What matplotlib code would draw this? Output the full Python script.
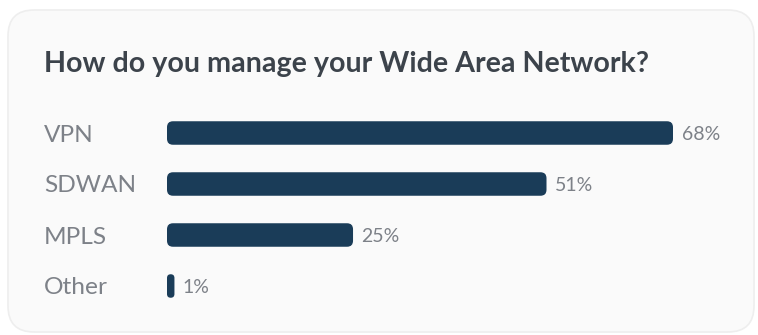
import matplotlib
matplotlib.use("Agg")
import matplotlib.pyplot as plt
from matplotlib.patches import FancyBboxPatch

# Survey results
title = "How do you manage your Wide Area Network?"
categories = ["VPN", "SDWAN", "MPLS", "Other"]
shares = [68, 51, 25, 1]
value_labels = ["68%", "51%", "25%", "1%"]

W, H, DPI = 758, 335, 100
BAR_COLOR = "#1a3c58"
LABEL_COLOR = "#7d8188"
TITLE_COLOR = "#3c434b"
FONT = ["Lato", "DejaVu Sans"]

fig = plt.figure(figsize=(W / DPI, H / DPI), dpi=DPI)
fig.patch.set_facecolor("white")

# Card background, drawn in pixel units
bg = fig.add_axes([0, 0, 1, 1])
bg.set_xlim(0, W)
bg.set_ylim(H, 0)
bg.axis("off")
bg.add_patch(FancyBboxPatch((8, 10), 746, 322,
                            boxstyle="round,pad=0,rounding_size=26",
                            facecolor="#fafafa", edgecolor="#eeeeee",
                            linewidth=1.2))
bg.text(44, 72, title, fontsize=20.6, fontweight="bold", color=TITLE_COLOR,
        family=FONT, ha="left", va="baseline")

# Bar axes: left edge at the bar origin, one row every 51 px
x0_px, x1_px = 167, 745
y_top_px, y_bot_px = 107.5, 311.5
ax = fig.add_axes([x0_px / W, 1 - y_bot_px / H,
                   (x1_px - x0_px) / W, (y_bot_px - y_top_px) / H])
px_per_unit_x = 506 / 68
xmax = (x1_px - x0_px) / px_per_unit_x
ax.set_xlim(0, xmax)
ax.set_ylim(len(categories) - 0.5, -0.5)
ax.axis("off")
px_per_unit_y = (y_bot_px - y_top_px) / len(categories)

bar_h = 23.5 / px_per_unit_y
radius_px = 6.0
aspect = px_per_unit_x / px_per_unit_y

for i, (cat, v, lab) in enumerate(zip(categories, shares, value_labels)):
    r = min(radius_px / px_per_unit_x, v / 2)
    ax.add_patch(FancyBboxPatch((0, i - bar_h / 2), v, bar_h,
                                boxstyle=f"round,pad=0,rounding_size={r}",
                                mutation_aspect=aspect,
                                facecolor=BAR_COLOR, edgecolor="none"))
    ax.text(v + 8.5 / px_per_unit_x, i, lab, fontsize=14, color=LABEL_COLOR,
            family=FONT, ha="left", va="center_baseline")
    ax.text(-(x0_px - 44) / px_per_unit_x, i, cat, fontsize=17.6,
            color=LABEL_COLOR, family=FONT, ha="left", va="center_baseline")

fig.savefig("out.png", dpi=DPI, facecolor="white")
